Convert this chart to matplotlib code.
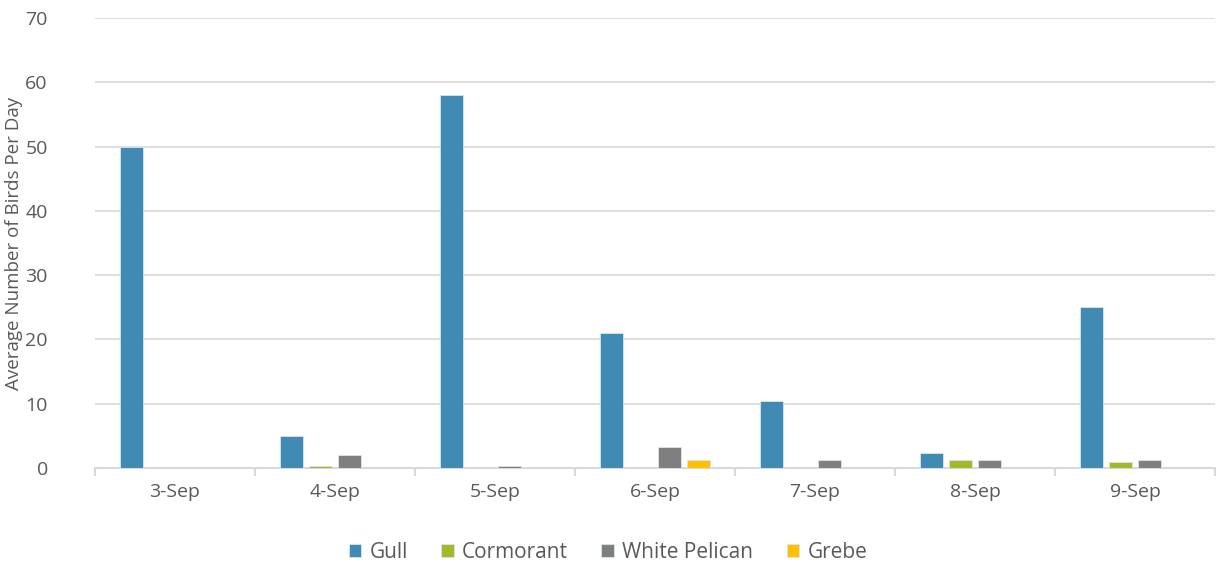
import matplotlib
matplotlib.use("Agg")
import matplotlib.pyplot as plt
import numpy as np

categories = ["3-Sep", "4-Sep", "5-Sep", "6-Sep", "7-Sep", "8-Sep", "9-Sep"]
series_names = ["Gull", "Cormorant", "White Pelican", "Grebe"]
gull = [50, 5, 58, 21, 10.5, 2.4, 25]
cormorant = [0, 0.3, 0, 0, 0, 1.3, 0.9]
white_pelican = [0, 2, 0.3, 3.3, 1.3, 1.3, 1.3]
grebe = [0, 0, 0, 1.3, 0, 0, 0]
colors = ["#418AB3", "#A6B727", "#7F7F7F", "#FFC000"]
yticks = [0, 10, 20, 30, 40, 50, 60, 70]

plt.rcParams['font.family'] = ['Open Sans', 'DejaVu Sans']
fig = plt.figure(figsize=(12.16, 5.69), dpi=100)
ax = fig.add_axes([95/1216, 1 - 468/569, (1215-95)/1216, (468-18)/569])

x = np.arange(len(categories))
step = 0.183
width = 0.143
data = [gull, cormorant, white_pelican, grebe]
for i, (vals, name, c) in enumerate(zip(data, series_names, colors)):
    ax.bar(x + (i - 1.5) * step, vals, width, color=c, label=name,
           edgecolor="#D6E6F0", linewidth=0.6, zorder=3)

ax.set_xlim(-0.5, len(categories) - 0.5)
ax.set_ylim(0, 70)
ax.set_yticks(yticks)
ax.yaxis.grid(True, color="#D9D9D9", linewidth=1.2, zorder=0)
ax.set_axisbelow(True)
for s in ["top", "right", "left"]:
    ax.spines[s].set_visible(False)
ax.spines["bottom"].set_color("#D9D9D9")
ax.spines["bottom"].set_linewidth(1.5)
ax.tick_params(axis="y", length=0, labelsize=14, labelcolor="#595959", pad=34)
ax.set_xticks(x)
ax.set_xticklabels(categories)
ax.tick_params(axis="x", length=0, labelsize=14, labelcolor="#595959", pad=11)
ax.set_xticks(np.arange(-0.5, len(categories)), minor=True)
ax.tick_params(axis="x", which="minor", length=6, color="#D9D9D9", width=1.5)
ax.set_ylabel("Average Number of Birds Per Day", fontsize=13.5, color="#595959")
ax.yaxis.set_label_coords(-72/1120, 0.5)

leg = fig.legend(loc="center", bbox_to_anchor=(0.5, 1 - 552/569), ncol=4, frameon=False,
                 fontsize=15, handlelength=0.6, handleheight=0.6, handletextpad=0.4,
                 columnspacing=1.6)
for t in leg.get_texts():
    t.set_color("#595959")

fig.savefig("out.png", dpi=100)
